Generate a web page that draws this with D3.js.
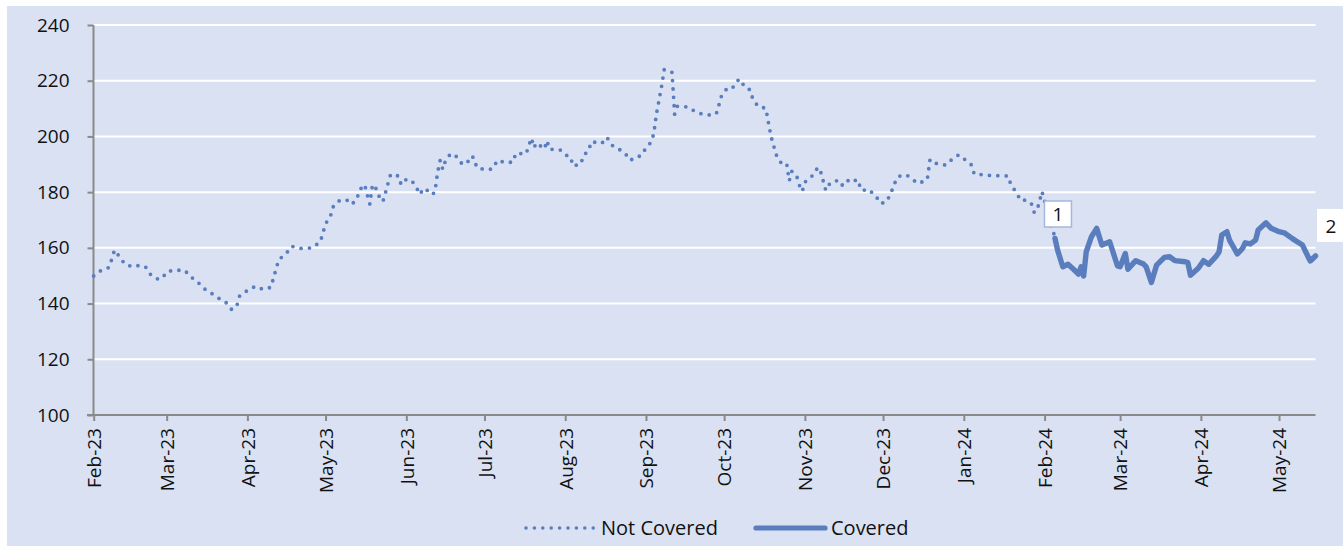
<!DOCTYPE html>
<html>
<head>
<meta charset="utf-8">
<script src="https://cdn.jsdelivr.net/npm/d3@7"></script>
<style>
  html, body { margin: 0; padding: 0; background: #ffffff; }
  svg { display: block; }
  text { font-family: "Open Sans", "Noto Sans", sans-serif; fill: #111; }
</style>
</head>
<body>
<svg id="chart" width="1343" height="546"></svg>
<script>
// ---------------- DATA ----------------
const startDate = "2023-02-01";
const endDate = "2024-05-15";

// day offsets from startDate and index values, "Not Covered" series
const notCoveredDays = [
  0,3,6,7,8,10,12,15,18,20,
  22,25,27,28,31,35,37,40,42,45,
  48,51,53,55,56,59,62,65,68,69,
  70,71,74,76,79,82,84,87,88,89,
  91,92,94,97,99,101,102,104,105,106,
  107,108,109,111,112,113,114,117,118,120,
  122,124,125,127,130,131,132,133,134,135,
  137,139,141,143,145,146,147,150,153,155,
  158,161,162,166,167,168,169,170,173,174,
  175,179,181,183,184,187,188,190,191,195,
  197,199,202,204,206,208,210,212,214,215,
  216,217,218,219,221,222,223,224,228,231,
  233,236,239,240,241,243,245,247,248,250,
  252,253,255,258,259,260,261,262,264,266,
  267,268,270,271,272,273,276,278,279,280,
  281,282,285,287,289,291,293,294,295,297,
  300,302,304,306,307,309,312,315,316,319,
  320,321,322,323,327,329,332,335,337,338,
  342,345,348,351,352,354,356,358,360,361,
  362,363,364,365,366,367,368,369
];
const notCoveredValues = [
  149.9,152.0,153.0,156.2,159.2,156.7,154.1,153.2,153.8,153.0,
  150.2,148.6,150.0,151.4,152.0,151.9,149.8,147.7,145.6,143.8,
  141.9,140.2,137.8,139.4,142.7,144.7,146.2,145.1,145.8,149.1,
  152.4,155.7,158.1,160.6,159.8,159.8,160.1,162.2,165.4,168.6,
  171.8,174.9,176.8,177.3,175.6,177.4,180.7,182.7,179.0,175.7,
  182.6,182.3,179.3,176.6,179.8,183.2,186.4,185.8,182.7,184.6,
  184.2,181.6,179.2,181.4,179.1,180.2,187.1,191.4,188.2,191.2,
  193.8,193.0,190.5,190.0,193.0,192.2,188.9,188.1,188.3,191.4,
  190.6,190.8,193.9,193.8,196.7,199.4,196.0,197.7,195.5,198.5,
  195.4,195.2,193.4,192.7,189.4,190.1,193.2,194.9,198.1,197.5,
  199.7,196.8,195.2,193.9,191.4,192.6,193.0,195.8,198.0,201.0,
  208.0,213.0,218.0,224.0,223.5,223.0,208.0,210.8,210.6,208.9,
  208.2,207.7,208.1,211.3,214.6,217.1,217.1,219.9,220.6,217.6,
  216.7,213.5,210.8,210.1,205.0,200.0,196.7,193.4,190.3,190.3,
  184.1,187.5,185.3,182.2,180.3,183.6,186.0,188.9,187.5,184.1,
  180.7,182.6,184.2,182.2,184.4,183.4,184.6,182.5,180.5,181.1,
  179.0,176.0,176.3,179.3,182.5,185.7,186.2,184.1,183.2,183.9,
  184.7,191.5,190.3,190.4,189.7,191.4,193.4,191.3,189.7,186.5,
  186.2,185.9,185.9,185.8,182.9,180.0,176.9,177.2,175.7,172.8,
  173.1,176.5,180.2,176.9,172.0,168.5,166.8,163.8
];

// "Covered" series
const coveredDays = [
  369,370,372,374,376,378,379,380,381,383,
  385,387,390,393,394,396,397,399,400,403,
  404,406,408,411,413,415,419,420,421,424,
  426,428,431,432,433,435,436,439,441,442,
  444,446,447,450,452,455,457,460,462,464,
  466,467,469
];
const coveredValues = [
  163.4,159.2,153.2,154.1,152.4,150.6,153.2,149.9,158.6,164.0,
  167.0,161.0,162.2,153.5,153.2,158.0,152.3,154.4,155.4,154.2,
  153.2,147.6,153.8,156.6,156.8,155.4,155.0,154.7,150.2,152.7,
  155.4,154.1,157.1,158.6,164.6,165.8,162.8,157.8,159.8,161.8,
  161.4,162.8,166.4,169.0,167.0,165.8,165.4,163.4,162.2,161.0,
  157.1,155.3,157.1
];

const yTicks = [100, 120, 140, 160, 180, 200, 220, 240];
const xTickLabels = ["Feb-23","Mar-23","Apr-23","May-23","Jun-23","Jul-23","Aug-23","Sep-23",
                     "Oct-23","Nov-23","Dec-23","Jan-24","Feb-24","Mar-24","Apr-24","May-24"];
const seriesNames = ["Not Covered", "Covered"];
const markerLabels = ["1", "2"];

// ---------------- DRAW ----------------
const lineColor = "#5A7DBD";
const svg = d3.select("#chart");

svg.append("rect").attr("x", 7).attr("y", 6).attr("width", 1343 - 7).attr("height", 546 - 6)
  .attr("fill", "#D9E1F2");

const parse = d3.timeParse("%Y-%m-%d");
const t0 = parse(startDate);
const x = d3.scaleTime().domain([t0, parse(endDate)]).range([93.7, 1315.5]);
const y = d3.scaleLinear().domain([100, 240]).range([415, 25]);

const toPts = (days, vals) => days.map((d, i) => ({ date: d3.timeDay.offset(t0, d), v: vals[i] }));
const nc = toPts(notCoveredDays, notCoveredValues);
const cv = toPts(coveredDays, coveredValues);

// gridlines
svg.append("g").selectAll("line").data(yTicks.filter(v => v > 100)).join("line")
  .attr("x1", 93).attr("x2", 1315.5)
  .attr("y1", d => y(d)).attr("y2", d => y(d))
  .attr("stroke", "#ffffff").attr("stroke-width", 2);

// y axis
const yAxis = svg.append("g").attr("transform", "translate(93.5,0)")
  .call(d3.axisLeft(y).tickValues(yTicks).tickSize(6).tickPadding(18).tickFormat(d3.format("d")));
yAxis.select(".domain").attr("stroke", "#8a8a8a").attr("stroke-width", 2).attr("d", `M0,${y(240)}V${y(100)}`);
yAxis.selectAll(".tick line").attr("stroke", "#8a8a8a").attr("stroke-width", 2);
yAxis.selectAll(".tick text").attr("font-size", 19).attr("fill", "#111")
  .style("font-family", '"Open Sans", sans-serif');

// x axis
const monthTicks = xTickLabels.map(s => d3.timeParse("%b-%y")(s));
const xAxis = svg.append("g").attr("transform", "translate(0,415)")
  .call(d3.axisBottom(x).tickValues(monthTicks).tickSize(6).tickFormat((d, i) => xTickLabels[i]));
xAxis.select(".domain").attr("stroke", "#8a8a8a").attr("stroke-width", 2).attr("d", `M87,0H1315.5`);
xAxis.selectAll(".tick line").attr("stroke", "#8a8a8a").attr("stroke-width", 2);
xAxis.selectAll(".tick text")
  .attr("font-size", 19).attr("fill", "#111")
  .style("font-family", '"Open Sans", sans-serif')
  .attr("text-anchor", "end")
  .attr("transform", "translate(0,13) rotate(-90)")
  .attr("x", 0).attr("y", 0).attr("dy", "0.36em");

// lines
const line = d3.line().x(d => x(d.date)).y(d => y(d.v));
svg.append("path").datum(nc).attr("d", line)
  .attr("fill", "none").attr("stroke", lineColor).attr("stroke-width", 3.8)
  .attr("stroke-linecap", "round").attr("stroke-dasharray", "0 8.4");
svg.append("path").datum(cv).attr("d", line)
  .attr("fill", "none").attr("stroke", lineColor).attr("stroke-width", 5.4)
  .attr("stroke-linejoin", "round").attr("stroke-linecap", "round");

// data labels
const lastNc = nc[nc.length - 1], lastCv = cv[cv.length - 1];
const l1x = x(d3.timeDay.offset(lastNc.date, -5)) + 2.5, l1y = y(177) + 0.5;
svg.append("rect").attr("x", l1x).attr("y", l1y).attr("width", 27).attr("height", 26)
  .attr("fill", "#ffffff").attr("stroke", "#A3B8DF").attr("stroke-width", 1.5);
svg.append("text").attr("x", l1x + 13.5).attr("y", l1y + 13).attr("dy", "0.36em")
  .attr("text-anchor", "middle").attr("font-size", 19).text(markerLabels[0]);

const l2x = x(lastCv.date) + 1.5, l2y = y(lastCv.v) - 47;
svg.append("rect").attr("x", l2x).attr("y", l2y).attr("width", 30).attr("height", 33)
  .attr("fill", "#ffffff");
svg.append("text").attr("x", l2x + 14).attr("y", l2y + 17).attr("dy", "0.36em")
  .attr("text-anchor", "middle").attr("font-size", 19).text(markerLabels[1]);

// legend
const lg = svg.append("g");
lg.append("line").attr("x1", 526).attr("x2", 595).attr("y1", 528).attr("y2", 528)
  .attr("stroke", lineColor).attr("stroke-width", 3.6).attr("stroke-linecap", "round")
  .attr("stroke-dasharray", "0 8.4");
lg.append("text").attr("x", 601).attr("y", 528).attr("dy", "0.36em").attr("font-size", 20).text(seriesNames[0]);
lg.append("line").attr("x1", 756).attr("x2", 825).attr("y1", 528).attr("y2", 528)
  .attr("stroke", lineColor).attr("stroke-width", 5.2).attr("stroke-linecap", "round");
lg.append("text").attr("x", 831).attr("y", 528).attr("dy", "0.36em").attr("font-size", 20).text(seriesNames[1]);
</script>
</body>
</html>
